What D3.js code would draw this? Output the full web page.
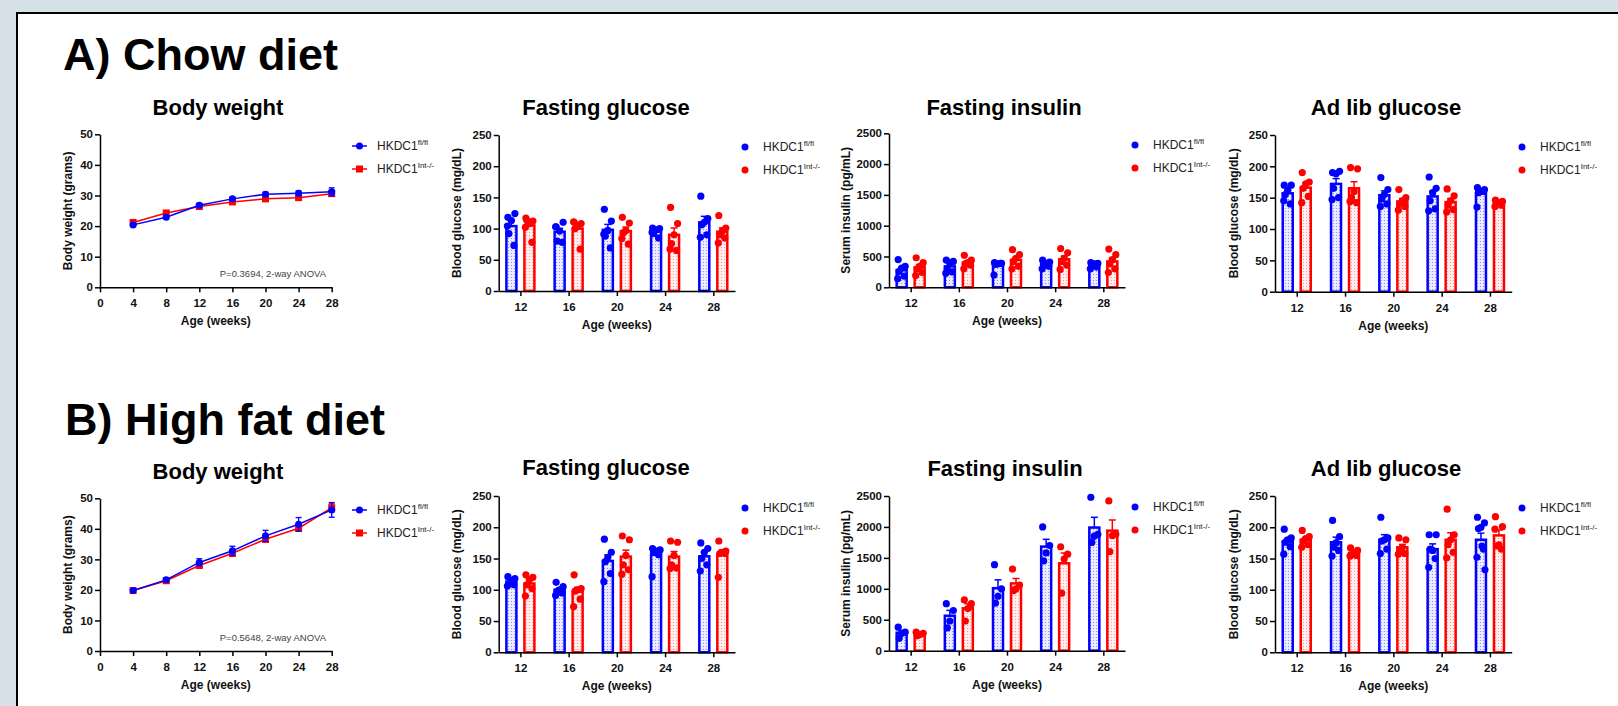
<!DOCTYPE html>
<html lang="en">
<head>
<meta charset="UTF-8">
<title>HKDC1 chow and high fat diet</title>
<script src="https://d3js.org/d3.v7.min.js"></script>
<style>
  body { margin: 0; background: #d6e2e8; overflow: hidden; }
  svg { display: block; font-family: "Liberation Sans", Arial, sans-serif; }
  .axis .tick text { font-size: 11.5px; font-weight: bold; fill: #111; font-family: "Liberation Sans", Arial, sans-serif; }
  .axis path, .axis line { stroke: #000; stroke-width: 1.5px; }
  .heading { font-size: 45px; font-weight: bold; fill: #000; }
  .ptitle { font-size: 22px; font-weight: bold; text-anchor: middle; fill: #000; }
  .alabel { font-size: 12px; font-weight: bold; text-anchor: middle; fill: #111; }
  .leg { font-size: 12px; fill: #222; }
  .pval { font-size: 9.5px; fill: #444; text-anchor: end; }
</style>
</head>
<body>
<script>
const ages = [4, 8, 12, 16, 20, 24, 28];
const barAges = [12, 16, 20, 24, 28];
const weightTicks = [0, 10, 20, 30, 40, 50];
const glucoseTicks = [0, 50, 100, 150, 200, 250];
const insulinTicks = [0, 500, 1000, 1500, 2000, 2500];
const groups = ["fl/fl", "Int-/-"];

// body weight, mean and SEM in grams
const chowWeightFl = [20.4, 22.9, 26.8, 28.9, 30.4, 30.7, 31.2];
const chowWeightFlSem = [0.5, 0.5, 0.6, 0.6, 0.7, 0.8, 1.3];
const chowWeightInt = [21.2, 24.3, 26.4, 27.9, 28.9, 29.3, 30.6];
const chowWeightIntSem = [0.5, 0.5, 0.5, 0.6, 0.6, 0.7, 0.8];
const hfdWeightFl = [19.8, 23.3, 29.0, 32.8, 37.7, 41.5, 46.2];
const hfdWeightFlSem = [0.5, 0.6, 1.2, 1.5, 1.8, 2.2, 2.4];
const hfdWeightInt = [19.8, 23.0, 28.0, 32.0, 36.6, 40.2, 46.9];
const hfdWeightIntSem = [0.4, 0.5, 0.8, 1.0, 1.0, 1.0, 1.3];

// individual animals, one list per age (12..28 weeks)
const chowFastGlucFl = [[118, 124, 113, 92, 73, 104], [103, 110, 96, 80, 78, 103], [131, 112, 97, 88, 69, 91], [101, 100, 98, 92, 85, 94], [152, 116, 110, 106, 90, 86]];
const chowFastGlucInt = [[117, 112, 108, 113, 78, 102], [110, 108, 104, 100, 67, 111], [118, 109, 97, 93, 75, 84], [134, 108, 90, 76, 65, 67], [121, 101, 96, 90, 85, 77]];
const chowInsulinFl = [[450, 340, 310, 260, 180, 140], [440, 420, 400, 300, 250, 230], [400, 390, 380, 370, 390, 200], [440, 410, 390, 370, 340, 300], [400, 390, 380, 360, 330, 300]];
const chowInsulinInt = [[480, 400, 340, 300, 240, 190], [520, 440, 400, 380, 360, 300], [610, 530, 470, 420, 340, 300], [630, 560, 470, 420, 360, 290], [620, 530, 450, 380, 300, 240]];
const chowAdLibFl = [[170, 170, 162, 155, 140, 145], [190, 192, 188, 165, 150, 147], [182, 163, 155, 148, 140, 136], [183, 165, 158, 145, 132, 129], [166, 163, 160, 158, 160, 135]];
const chowAdLibInt = [[190, 175, 172, 165, 152, 142], [198, 196, 160, 150, 142, 144], [163, 150, 145, 140, 136, 130], [164, 153, 145, 138, 131, 127], [146, 144, 142, 140, 138, 136]];

const hfdFastGlucFl = [[121, 118, 115, 110, 108, 106], [112, 105, 100, 97, 95, 91], [181, 160, 152, 145, 126, 113], [166, 163, 162, 160, 156, 121, 164], [175, 166, 160, 150, 140, 130]];
const hfdFastGlucInt = [[124, 120, 116, 108, 102, 90], [124, 102, 100, 98, 85, 73], [186, 180, 155, 140, 132, 125], [178, 176, 155, 140, 135, 134], [178, 162, 160, 158, 158, 120]];
const hfdInsulinFl = [[380, 300, 280, 200], [760, 650, 480, 370], [1390, 1000, 880, 770], [2000, 1700, 1580, 1450], [2480, 1880, 1850, 1750]];
const hfdInsulinInt = [[300, 280, 260, 240], [820, 760, 680, 480], [1320, 1060, 1000, 970], [1680, 1560, 1480, 930], [2420, 1880, 1860, 1600]];
const hfdAdLibFl = [[197, 183, 180, 176, 169, 157], [211, 185, 175, 168, 163, 154], [216, 183, 180, 178, 165, 158], [188, 188, 163, 165, 150, 136], [216, 207, 200, 198, 165, 152, 132, 170]];
const hfdAdLibInt = [[195, 185, 182, 178, 172, 168], [167, 163, 159, 156, 155, 154], [183, 180, 168, 162, 158, 157], [229, 188, 180, 172, 160, 151], [217, 201, 172, 170, 165, 197]];

const blue = "#0000ff", red = "#ff0000";
const width = 1618, height = 706;

const svg = d3.select("body").append("svg")
  .attr("width", width)
  .attr("height", height);

// dotted fills for the bars
const defs = svg.append("defs");
function dotPattern(id, bg, dot) {
  const p = defs.append("pattern").attr("id", id)
    .attr("patternUnits", "userSpaceOnUse").attr("width", 3).attr("height", 3);
  p.append("rect").attr("width", 3).attr("height", 3).attr("fill", bg);
  p.append("circle").attr("cx", 1.5).attr("cy", 1.5).attr("r", 0.6).attr("fill", dot);
}
dotPattern("dotsBlue", "#ececff", "#8080ff");
dotPattern("dotsRed", "#fff0f0", "#ff8a8a");

// white sheet with black frame
svg.append("rect")
  .attr("x", 17).attr("y", 13)
  .attr("width", 1700).attr("height", 800)
  .attr("fill", "#fff").attr("stroke", "#000").attr("stroke-width", 2);

svg.append("text").attr("class", "heading").attr("x", 63).attr("y", 70).text("A) Chow diet");
svg.append("text").attr("class", "heading").attr("x", 65).attr("y", 435).text("B) High fat diet");

function legendLabel(x, y, grp) {
  const t = svg.append("text").attr("class", "leg").attr("x", x).attr("y", y + 4);
  t.append("tspan").text("HKDC1");
  t.append("tspan").attr("dy", -5).attr("font-size", 8).text(grp);
}

function yLabel(x, y, txt) {
  svg.append("text").attr("class", "alabel")
    .attr("transform", `translate(${x + 4},${y}) rotate(-90)`)
    .text(txt);
}

function drawWeight(f, fl, flSem, int, intSem, pText) {
  const x = d3.scaleLinear().domain([0, 28]).range([f.x0, f.x1]);
  const y = d3.scaleLinear().domain([0, 50]).range([f.y0, f.y1]);
  const g = svg.append("g");

  g.append("g").attr("class", "axis")
    .attr("transform", `translate(0,${f.y0})`)
    .call(d3.axisBottom(x).tickValues([0, 4, 8, 12, 16, 20, 24, 28]).tickSize(5).tickSizeOuter(0).tickPadding(7));
  g.append("g").attr("class", "axis")
    .attr("transform", `translate(${f.x0},0)`)
    .call(d3.axisLeft(y).tickValues(weightTicks).tickSize(5).tickSizeOuter(0).tickPadding(2));

  const series = [
    { m: fl, s: flSem, c: blue, shape: "circle" },
    { m: int, s: intSem, c: red, shape: "square" }
  ];
  series.reverse().forEach(sr => {
    const pts = ages.map((a, i) => ({ a, m: sr.m[i], s: sr.s[i] }));
    g.append("path").datum(pts)
      .attr("fill", "none").attr("stroke", sr.c).attr("stroke-width", 1.5)
      .attr("d", d3.line().x(d => x(d.a)).y(d => y(d.m)));
    const eb = g.append("g").attr("stroke", sr.c).attr("stroke-width", 1.3);
    pts.forEach(d => {
      eb.append("line").attr("x1", x(d.a)).attr("x2", x(d.a))
        .attr("y1", y(d.m - d.s)).attr("y2", y(d.m + d.s));
      [d.m - d.s, d.m + d.s].forEach(v => eb.append("line")
        .attr("x1", x(d.a) - 3).attr("x2", x(d.a) + 3)
        .attr("y1", y(v)).attr("y2", y(v)));
    });
    if (sr.shape === "circle") {
      g.selectAll(null).data(pts).enter().append("circle")
        .attr("cx", d => x(d.a)).attr("cy", d => y(d.m)).attr("r", 3.5).attr("fill", sr.c);
    } else {
      g.selectAll(null).data(pts).enter().append("rect")
        .attr("x", d => x(d.a) - 3.5).attr("y", d => y(d.m) - 3.5)
        .attr("width", 7).attr("height", 7).attr("fill", sr.c);
    }
  });

  svg.append("text").attr("class", "ptitle").attr("x", f.tx).attr("y", f.ty).text("Body weight");
  svg.append("text").attr("class", "alabel").attr("x", (f.x0 + f.x1) / 2).attr("y", f.y0 + 38).text("Age (weeks)");
  yLabel(68, (f.y0 + f.y1) / 2, "Body weight (grams)");
  svg.append("text").attr("class", "pval").attr("x", 326).attr("y", f.y0 - 10).text(pText);

  // legend
  [[blue, groups[0], 0], [red, groups[1], 23]].forEach(([c, grp, dy], k) => {
    const ly = f.ly + dy;
    svg.append("line").attr("x1", 352).attr("x2", 367).attr("y1", ly).attr("y2", ly)
      .attr("stroke", c).attr("stroke-width", 1.5);
    if (k === 0) svg.append("circle").attr("cx", 359.5).attr("cy", ly).attr("r", 3.5).attr("fill", c);
    else svg.append("rect").attr("x", 356).attr("y", ly - 3.5).attr("width", 7).attr("height", 7).attr("fill", c);
    legendLabel(377, ly, grp);
  });
}

const jitter = [-3.5, 3.5, 0, -2.5, 2.5, -4, 4, 1];

function drawBars(f, flPts, intPts, ticks, yText, title) {
  const x = d3.scalePoint().domain(barAges).range([f.x0, f.x1]).padding(0.45);
  const y = d3.scaleLinear().domain([0, ticks[ticks.length - 1]]).range([f.y0, f.y1]);
  const g = svg.append("g");

  const sets = [
    { pts: flPts, c: blue, fill: "url(#dotsBlue)", off: -9 },
    { pts: intPts, c: red, fill: "url(#dotsRed)", off: 9 }
  ];
  sets.forEach(s => {
    barAges.forEach((a, i) => {
      const vals = s.pts[i];
      const m = d3.mean(vals);
      const sem = d3.deviation(vals) / Math.sqrt(vals.length);
      const cx = x(a) + s.off;
      g.append("rect")
        .attr("x", cx - 5).attr("width", 10)
        .attr("y", y(m)).attr("height", y(0) - y(m))
        .attr("fill", s.fill).attr("stroke", s.c).attr("stroke-width", 2.5);
      g.append("line").attr("x1", cx).attr("x2", cx).attr("y1", y(m)).attr("y2", y(m + sem))
        .attr("stroke", s.c).attr("stroke-width", 1.5);
      g.append("line").attr("x1", cx - 3.5).attr("x2", cx + 3.5).attr("y1", y(m + sem)).attr("y2", y(m + sem))
        .attr("stroke", s.c).attr("stroke-width", 1.5);
      g.selectAll(null).data(vals).enter().append("circle")
        .attr("cx", (d, j) => cx + jitter[j % jitter.length])
        .attr("cy", d => y(d))
        .attr("r", 3.6)
        .attr("fill", s.c);
    });
  });

  g.append("g").attr("class", "axis")
    .attr("transform", `translate(0,${f.y0})`)
    .call(d3.axisBottom(x).tickSize(5).tickSizeOuter(0).tickPadding(7));
  g.append("g").attr("class", "axis")
    .attr("transform", `translate(${f.x0},0)`)
    .call(d3.axisLeft(y).tickValues(ticks).tickFormat(d3.format("d")).tickSize(5).tickSizeOuter(0).tickPadding(2));

  svg.append("text").attr("class", "ptitle").attr("x", f.tx).attr("y", f.ty).text(title);
  svg.append("text").attr("class", "alabel").attr("x", (f.x0 + f.x1) / 2).attr("y", f.y0 + 38).text("Age (weeks)");
  yLabel(f.ylx, (f.y0 + f.y1) / 2, yText);

  [[blue, groups[0], 0], [red, groups[1], 23]].forEach(([c, grp, dy]) => {
    svg.append("circle").attr("cx", f.lx).attr("cy", f.ly + dy).attr("r", 3.5).attr("fill", c);
    legendLabel(f.lx + 18, f.ly + dy, grp);
  });
}

// panel frames (pixels)
drawWeight({ x0: 100, x1: 331.7, y0: 287.3, y1: 134.3, tx: 218, ty: 115, ly: 146 },
  chowWeightFl, chowWeightFlSem, chowWeightInt, chowWeightIntSem, "P=0.3694, 2-way ANOVA");
drawWeight({ x0: 100, x1: 331.7, y0: 651, y1: 498.3, tx: 218, ty: 479, ly: 510 },
  hfdWeightFl, hfdWeightFlSem, hfdWeightInt, hfdWeightIntSem, "P=0.5648, 2-way ANOVA");

drawBars({ x0: 498.7, x1: 735, y0: 291, y1: 135, tx: 606, ty: 115, lx: 745, ly: 147, ylx: 457 },
  chowFastGlucFl, chowFastGlucInt, glucoseTicks, "Blood glucose (mg/dL)", "Fasting glucose");
drawBars({ x0: 889, x1: 1125, y0: 287.3, y1: 133.3, tx: 1004, ty: 115, lx: 1135, ly: 145, ylx: 846 },
  chowInsulinFl, chowInsulinInt, insulinTicks, "Serum insulin (pg/mL)", "Fasting insulin");
drawBars({ x0: 1275, x1: 1511.7, y0: 291.7, y1: 135, tx: 1386, ty: 115, lx: 1522, ly: 147, ylx: 1234 },
  chowAdLibFl, chowAdLibInt, glucoseTicks, "Blood glucose (mg/dL)", "Ad lib glucose");

drawBars({ x0: 498.7, x1: 735, y0: 652.3, y1: 496, tx: 606, ty: 475, lx: 745, ly: 508, ylx: 457 },
  hfdFastGlucFl, hfdFastGlucInt, glucoseTicks, "Blood glucose (mg/dL)", "Fasting glucose");
drawBars({ x0: 889, x1: 1125, y0: 650.7, y1: 496, tx: 1005, ty: 476, lx: 1135, ly: 507, ylx: 846 },
  hfdInsulinFl, hfdInsulinInt, insulinTicks, "Serum insulin (pg/mL)", "Fasting insulin");
drawBars({ x0: 1275, x1: 1511.7, y0: 652.3, y1: 496, tx: 1386, ty: 476, lx: 1522, ly: 508, ylx: 1234 },
  hfdAdLibFl, hfdAdLibInt, glucoseTicks, "Blood glucose (mg/dL)", "Ad lib glucose");
</script>
</body>
</html>
